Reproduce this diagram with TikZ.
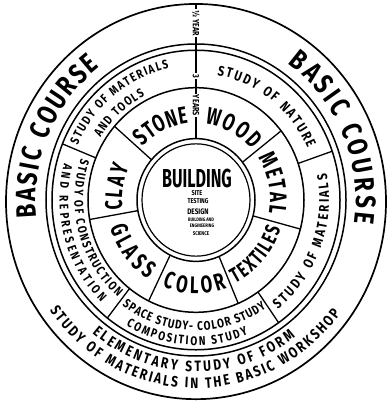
\documentclass[tikz,border=0pt]{standalone}
\usepackage{fontspec}
\usepackage{graphicx}
\setmainfont{Fira Sans}
\newfontfamily\bau{Fira Sans}[FakeStretch=0.8]
\newfontfamily\baun{Fira Sans}[FakeStretch=0.7]
\usetikzlibrary{decorations.text}
\newcommand\arctext[5]{%
  \path[decorate,decoration={text along path,text align=fit to path,
    text={|#4|#5}}] (#2:#1) arc[start angle=#2,end angle=#3,radius=#1];}
\newcommand\fBasic{\bau\bfseries\fontsize{28}{28}\selectfont}
\newcommand\fBottom{\bau\bfseries\fontsize{15}{15}\selectfont}
\newcommand\fStudy{\bau\bfseries\fontsize{12.5}{12.5}\selectfont}
\newcommand\fStudyL{\bau\bfseries\fontsize{14}{14}\selectfont}
\newcommand\fMat{\baun\bfseries\fontsize{24}{24}\selectfont}
\newcommand\fMatS{\baun\bfseries\fontsize{21}{21}\selectfont}
\tikzset{
  ringline/.style={line width=1.5pt},
  divline/.style={line width=1.3pt},
  vlabel/.style={fill=white,inner sep=1.2pt,rotate=-90,font=\bau\bfseries\fontsize{9}{9}\selectfont},
  centre/.style={inner sep=0pt,font=\bau\bfseries},
}
\begin{document}
\begin{tikzpicture}[x=1pt,y=1.04pt]
\fill[white] (-196,-200) rectangle (191,192.3);
\useasboundingbox (-196,-200) rectangle (191,192.3);
% circles
\draw[line width=1.7pt] (0,-1.5) circle[radius=190];
\draw[ringline] (0,0) circle[radius=150];
\draw[ringline] (0,0) circle[radius=144];
\draw[ringline] (0,0) circle[radius=108];
\draw[ringline] (0,0) circle[radius=59];
\draw[line width=1.2pt] (0,0) circle[radius=54];
% vertical year line
\draw[divline] (90:59) -- (90:189);
% material ring dividers
\foreach \a in {38,-15,-67,244,190,139} \draw[divline] (\a:59) -- (\a:108);
% study ring dividers
\foreach \a in {19,-55,232,158} \draw[divline] (\a:108) -- (\a:144);
% year labels
\node[vlabel] (halfyear) at (0,170) {½ YEAR};
\node[vlabel] (three) at (0,119) {3};
\node[vlabel] (years) at (0,91) {YEARS};
% outer ring
\arctext{160}{186}{127}{\fBasic}{BASIC COURSE}
\arctext{160}{55}{-8}{\fBasic}{BASIC COURSE}
\arctext{165}{231}{307}{\fBottom}{ELEMENTARY STUDY OF FORM}
\arctext{181}{216}{323}{\fBottom}{STUDY OF MATERIALS IN THE BASIC WORKSHOP}
% study ring
\arctext{129.5}{156}{102}{\fStudy}{STUDY OF MATERIALS}
\arctext{112.5}{148}{117}{\fStudy}{AND TOOLS}
\arctext{122}{80}{24}{\fStudyL}{STUDY OF NATURE}
\arctext{133}{-52}{11}{\fStudyL}{STUDY OF MATERIALS}
\arctext{125.5}{234}{304}{\fStudy}{SPACE STUDY- COLOR STUDY}
\arctext{139.5}{240}{292}{\fStudy}{COMPOSITION STUDY}
\arctext{121.5}{161}{230}{\fStudy}{STUDY OF CONSTRUCTION}
\arctext{136.5}{165}{226}{\fStudy}{AND REPRESENTATION}
% material ring
\arctext{74}{136}{96}{\fMat}{STONE}
\arctext{74}{83}{41}{\fMat}{WOOD}
\arctext{74}{33}{-10}{\fMat}{METAL}
\arctext{89}{-64}{-18}{\fMatS}{TEXTILES}
\arctext{90}{248}{290}{\fMat}{COLOR}
\arctext{90}{197}{238}{\fMat}{GLASS}
\arctext{74}{187}{155}{\fMat}{CLAY}
% centre
\node[centre,font=\bfseries\fontsize{26}{26}\selectfont] (building) at (1,21) {\scalebox{0.62}[1]{BUILDING}};
\node[centre,font=\bau\bfseries\fontsize{7}{7}\selectfont] (site) at (1,6.5) {SITE};
\node[centre,font=\bau\bfseries\fontsize{7}{7}\selectfont] (testing) at (2,-1.5) {TESTING};
\node[centre,font=\bau\bfseries\fontsize{8}{8}\selectfont] (design) at (2,-11.5) {DESIGN};
\node[centre,font=\bau\bfseries\fontsize{5}{5}\selectfont] (bldand) at (5,-19) {BUILDING AND};
\node[centre,font=\bau\bfseries\fontsize{5}{5}\selectfont] (engin) at (6,-24.5) {ENGINEERING};
\node[centre,font=\bau\bfseries\fontsize{5.5}{5.5}\selectfont] (science) at (5,-32.5) {SCIENCE};
\end{tikzpicture}
\end{document}
